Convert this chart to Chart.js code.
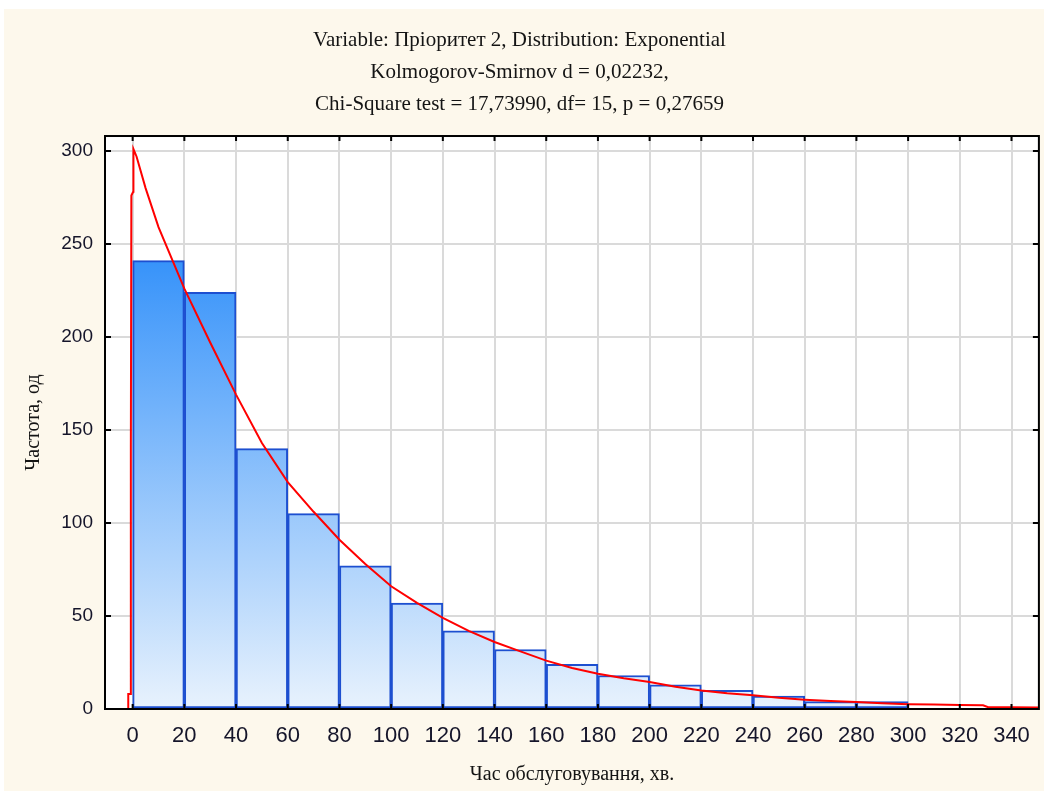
<!DOCTYPE html>
<html>
<head>
<meta charset="utf-8">
<script src="https://cdn.jsdelivr.net/npm/chart.js@4"></script>
<style>
  html, body { margin: 0; padding: 0; background: #fff; }
  #wrap { width: 1044px; height: 791px; }
</style>
</head>
<body>
<div id="wrap"><canvas id="c" width="1044" height="791"></canvas></div>
<script>
// histogram bins (left edges, width 20) and counts
const binStarts = [0, 20, 40, 60, 80, 100, 120, 140, 160, 180, 200, 220, 240, 260, 280];
const binWidth = 20;
const counts = [241, 224, 140, 105, 77, 57, 42, 32, 24, 18, 13, 10, 7, 4, 4];

// fitted exponential curve
const curveX = [-1.7, -1.7, -0.7, -0.7, -0.5, 0.2, 0.3, 1.5, 5, 10, 20, 30, 40, 50, 60, 70, 80, 90, 100, 110, 120, 130, 140, 150, 160, 170, 180, 190, 200, 210, 220, 230, 240, 250, 260, 270, 280, 290, 300, 310, 320, 329, 331, 340, 350.6];
const curveY = [0, 8, 8, 142, 276, 278, 301, 297, 280, 259, 226, 197, 169, 143, 122, 106, 91, 78, 66, 57, 49, 42, 36, 31, 26, 22, 19, 16.5, 14.5, 12, 10, 8.5, 7.4, 6, 5, 4.3, 3.8, 3.1, 2.6, 2.4, 2.2, 2.0, 1.0, 0.9, 0.8];

const xMin = -10.7, xMax = 350.6;
const yMin = 0, yMax = 308;
const xStep = 20, yStep = 50;

const titleLines = [
  'Variable: Пріоритет 2, Distribution: Exponential',
  'Kolmogorov-Smirnov d = 0,02232,',
  'Chi-Square test = 17,73990, df= 15, p = 0,27659'
];
const xTitle = 'Час обслуговування, хв.';
const yTitle = 'Частота, од';

const barData = binStarts.map((s, i) => ({ x: s + binWidth / 2, y: counts[i] }));
const curveData = curveX.map((x, i) => ({ x: x, y: curveY[i] }));

// background + frame + small inner ticks
const framePlugin = {
  id: 'frame',
  beforeDraw(chart) {
    const { ctx, chartArea: a, width, height } = chart;
    ctx.save();
    ctx.fillStyle = '#ffffff';
    ctx.fillRect(0, 0, width, height);
    ctx.fillStyle = '#fdf8ec';
    ctx.fillRect(4, 9, width - 4, height - 9);
    ctx.fillStyle = '#ffffff';
    ctx.fillRect(a.left, a.top, a.right - a.left, a.bottom - a.top);
    ctx.restore();
  },
  afterDatasetsDraw(chart) {
    const { ctx, chartArea: a, scales } = chart;
    ctx.save();
    ctx.strokeStyle = '#000000';
    ctx.lineWidth = 2;
    ctx.beginPath();
    scales.x.ticks.forEach(t => {
      const px = scales.x.getPixelForValue(t.value);
      ctx.moveTo(px, a.top); ctx.lineTo(px, a.top + 5);
      ctx.moveTo(px, a.bottom); ctx.lineTo(px, a.bottom - 5);
    });
    scales.y.ticks.forEach(t => {
      const py = scales.y.getPixelForValue(t.value);
      ctx.moveTo(a.left, py); ctx.lineTo(a.left + 6, py);
      ctx.moveTo(a.right, py); ctx.lineTo(a.right - 6, py);
    });
    ctx.stroke();
    ctx.strokeRect(a.left, a.top, a.right - a.left, a.bottom - a.top);
    ctx.restore();
  }
};

function barGradient(context) {
  const chart = context.chart;
  const a = chart.chartArea;
  if (!a) return '#7fb6f8';
  const yTop = chart.scales.y.getPixelForValue(Math.max(...counts));
  const g = chart.ctx.createLinearGradient(0, yTop, 0, a.bottom);
  g.addColorStop(0, '#3793fa');
  g.addColorStop(1, '#e8f2fd');
  return g;
}

new Chart(document.getElementById('c'), {
  data: {
    datasets: [
      {
        type: 'line',
        data: curveData,
        borderColor: '#ff0000',
        borderWidth: 2,
        pointRadius: 0,
        tension: 0,
        fill: false,
        order: 0
      },
      {
        type: 'bar',
        data: barData,
        backgroundColor: barGradient,
        borderColor: '#1d4fd0',
        borderWidth: 2,
        borderSkipped: false,
        barPercentage: 1,
        categoryPercentage: 1,
        order: 1
      }
    ]
  },
  options: {
    responsive: false,
    animation: false,
    layout: { padding: { left: 0, right: 5, top: 0, bottom: 0 } },
    plugins: {
      legend: { display: false },
      tooltip: { enabled: false },
      title: {
        display: true,
        text: titleLines,
        color: '#141414',
        font: { family: 'Liberation Serif', size: 21, weight: 'normal', lineHeight: 1.524 },
        padding: { top: 24, bottom: 16 }
      }
    },
    scales: {
      x: {
        type: 'linear',
        min: xMin, max: xMax,
        offset: false,
        afterBuildTicks(scale) {
          scale.ticks = scale.ticks.filter(t => t.value >= 0 && t.value % xStep === 0);
        },
        afterFit(scale) { scale.height = 82; },
        ticks: {
          stepSize: xStep,
          includeBounds: false,
          color: '#15152a',
          font: { family: 'Liberation Sans', size: 22 },
          padding: 14,
          maxRotation: 0,
          autoSkip: false
        },
        grid: { color: '#dadada', lineWidth: 2, drawTicks: false, offset: false },
        border: { display: false },
        title: {
          display: true,
          text: xTitle,
          color: '#141414',
          font: { family: 'Liberation Serif', size: 20 },
          padding: { top: 0, bottom: 4 }
        }
      },
      y: {
        type: 'linear',
        min: yMin, max: yMax,
        afterBuildTicks(scale) {
          scale.ticks = scale.ticks.filter(t => t.value % yStep === 0);
        },
        afterFit(scale) { scale.width = 105; },
        ticks: {
          stepSize: yStep,
          includeBounds: false,
          color: '#15152a',
          font: { family: 'Liberation Sans', size: 19 },
          padding: 12
        },
        grid: { color: '#dadada', lineWidth: 2, drawTicks: false },
        border: { display: false },
        title: {
          display: true,
          text: yTitle,
          color: '#141414',
          font: { family: 'Liberation Serif', size: 20 },
          padding: { top: 22, bottom: 0 }
        }
      }
    }
  },
  plugins: [framePlugin]
});
</script>
</body>
</html>
